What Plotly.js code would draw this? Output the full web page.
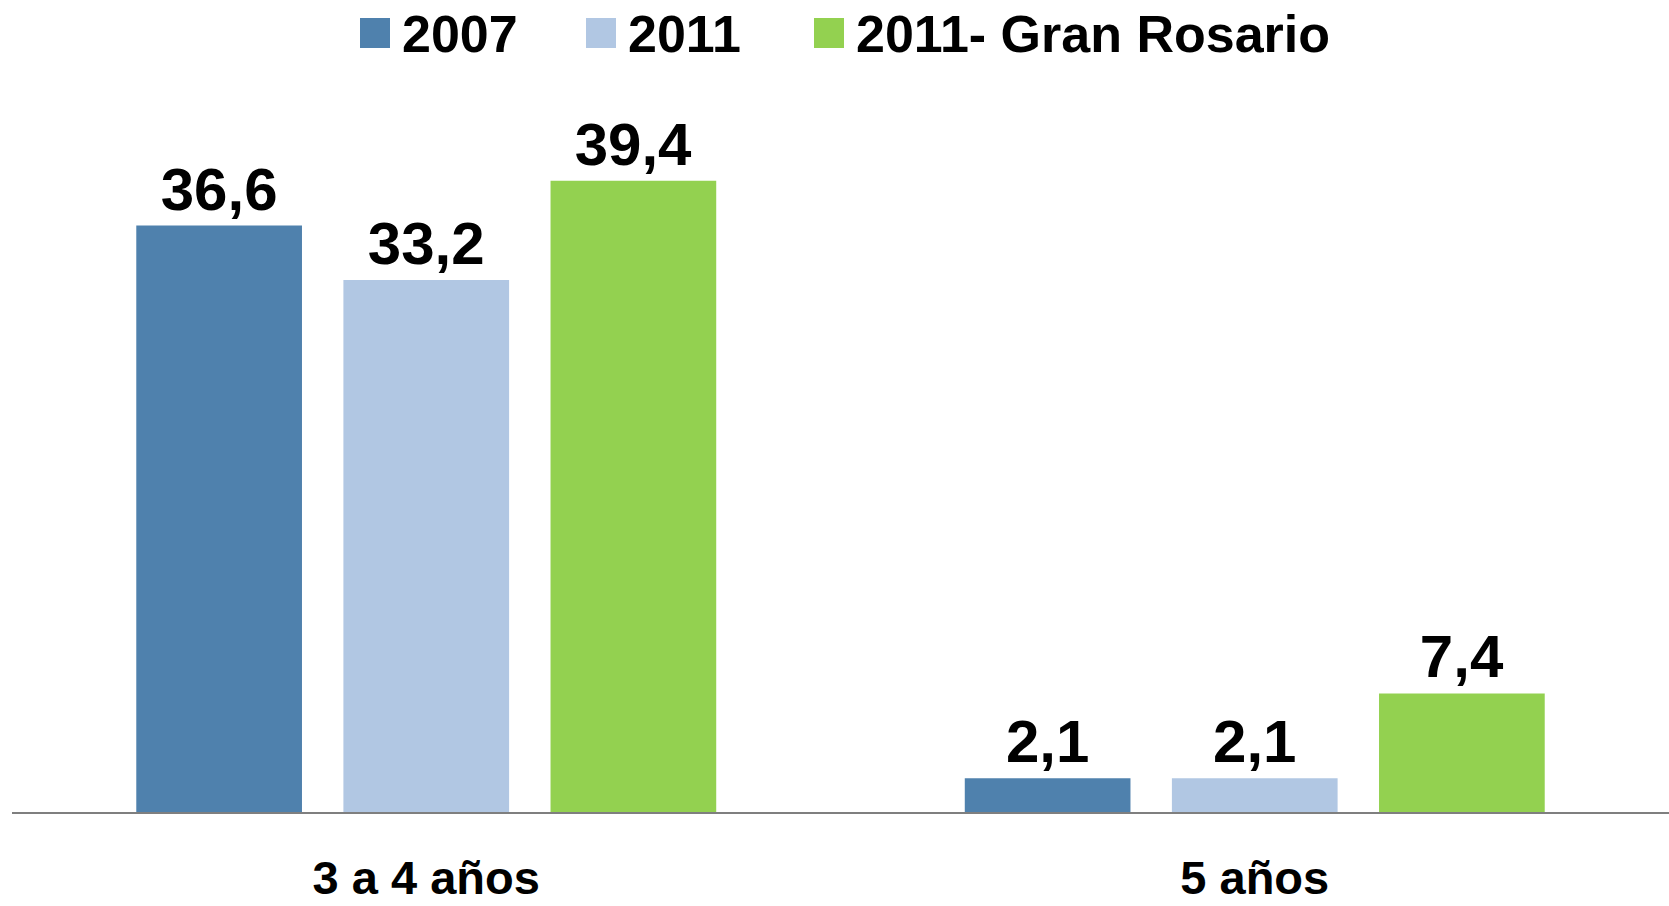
<!DOCTYPE html>
<html>
<head>
<meta charset="utf-8">
<script src="https://cdn.plot.ly/plotly-3.0.1.min.js"></script>
<style>html,body{margin:0;padding:0;background:#fff;}#chart{width:1669px;height:906px;}</style>
</head>
<body>
<div id="chart"></div>
<script>
const categories = ["3 a 4 años", "5 años"];
const seriesNames = ["2007", "2011", "2011- Gran Rosario"];
const values2007 = [36.6, 2.1];
const values2011 = [33.2, 2.1];
const valuesGranRosario = [39.4, 7.4];
const seriesValues = [values2007, values2011, valuesGranRosario];
const seriesColors = ["#4F81AD", "#B1C7E3", "#93D150"];

const FONT = "Liberation Sans, Arial, sans-serif";

const traces = seriesNames.map((name, i) => ({
  type: "bar",
  name: name,
  x: categories,
  y: seriesValues[i],
  marker: { color: seriesColors[i] },
  texttemplate: "%{y:.1f}",
  textposition: "outside",
  cliponaxis: false,
  textfont: { family: FONT, size: 60, color: "#000", weight: "bold" },
  hoverinfo: "skip",
  showlegend: false
}));

// custom legend (large square swatches)
const W = 1669, ml = 12, mr = 0, mt = 91, mb = 94, H = 906;
const pw = W - ml - mr, ph = H - mt - mb;
const px2x = px => (px - ml) / pw;
const py2y = py => (H - mb - py) / ph;
const legendSwatchLeft = [360, 586, 814];
const shapes = [], annotations = [];
seriesNames.forEach((name, i) => {
  shapes.push({
    type: "rect", xref: "paper", yref: "paper",
    x0: px2x(legendSwatchLeft[i]), x1: px2x(legendSwatchLeft[i] + 30),
    y0: py2y(48), y1: py2y(18),
    fillcolor: seriesColors[i], line: { width: 0 }
  });
  annotations.push({
    xref: "paper", yref: "paper",
    x: px2x(legendSwatchLeft[i] + 40), y: py2y(34),
    xanchor: "left", yanchor: "middle",
    text: "<b>" + name + "</b>", showarrow: false,
    font: { family: FONT, size: 52, color: "#000" }
  });
});

const layout = {
  width: W, height: H,
  margin: { l: ml, r: mr, t: mt, b: mb },
  paper_bgcolor: "#fff", plot_bgcolor: "#fff",
  separators: ",.",
  barmode: "group",
  bargap: 0.25,
  bargroupgap: 0.2,
  showlegend: false,
  xaxis: {
    type: "category",
    showline: true, linecolor: "#7F7F7F", linewidth: 2,
    ticks: "", showgrid: false,
    tickfont: { family: FONT, size: 47, color: "#000", weight: "bold" },
    ticklabelstandoff: 24
  },
  yaxis: {
    range: [0, 45], visible: false, showgrid: false, zeroline: false
  },
  shapes: shapes,
  annotations: annotations
};

Plotly.newPlot("chart", traces, layout, { displayModeBar: false, staticPlot: true });
</script>
</body>
</html>
